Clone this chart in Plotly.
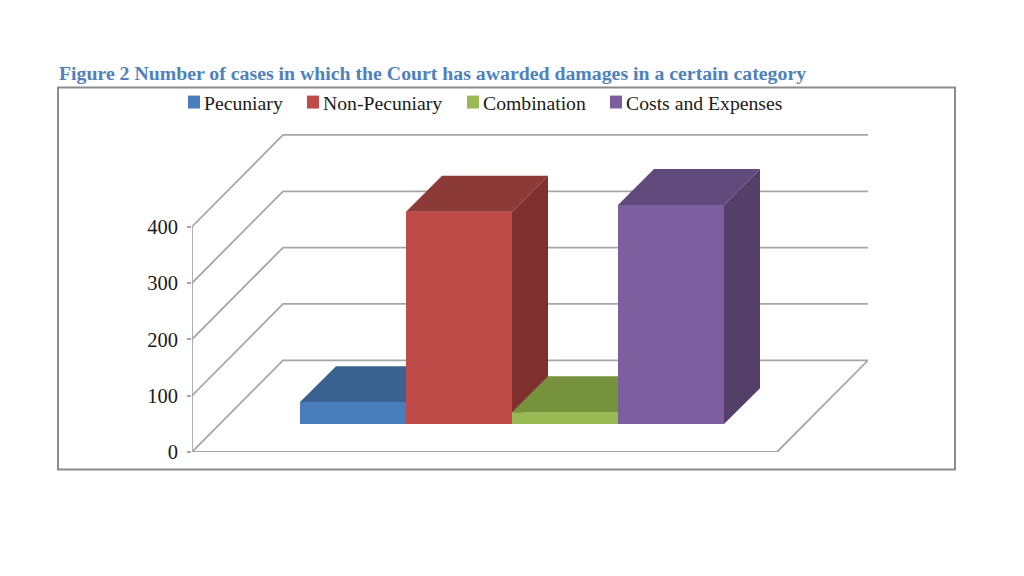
import plotly.graph_objects as go

# data
series_names = ['Pecuniary', 'Non-Pecuniary', 'Combination', 'Costs and Expenses']
series_values = [39, 377, 21, 389]
tick_values = [0, 100, 200, 300, 400]

front_colors = ['#4A7EBB', '#BE4B48', '#98B954', '#7D5FA0']
top_colors = ['#3A618F', '#8C3A38', '#76923C', '#604A7B']
side_colors = ['#2F5079', '#7F2F2D', '#66803A', '#533F68']

GRID_COLOR = '#A6A6A6'
TEXT_COLOR = '#1a1a1a'
FONT = 'Liberation Serif'

# the page body has an 8px margin, all pixel positions below are page positions
PAGE = 8
LEFT, RIGHT, TOP, BOTTOM = 192, 868, 120.5, 452.5
PX_PER_BAR = 106
PX_PER_VALUE = 0.565

x_min = -(353 - LEFT) / PX_PER_BAR
x_max = (RIGHT - 353) / PX_PER_BAR
y_max = (BOTTOM - TOP) / PX_PER_VALUE

# oblique offsets of the fake 3D box, in axis units
wall_dx = 91 / PX_PER_BAR
wall_dy = 92 / PX_PER_VALUE
bar_dx = 36 / PX_PER_BAR
bar_dy = 36 / PX_PER_VALUE
bar_base = 28 / PX_PER_VALUE
floor_right = x_max - wall_dx

# hand placed legend, its entries sit closer together than a plotly legend allows
legend_left = [188, 307, 467, 610]


def paper_x(px):
    return (px - LEFT) / (RIGHT - LEFT)


def paper_y(py):
    return (BOTTOM - py) / (BOTTOM - TOP)


def face(xs, ys, color):
    return go.Scatter(
        x=xs, y=ys, mode='lines', fill='toself', fillcolor=color,
        line=dict(width=0), hoverinfo='skip', showlegend=False, cliponaxis=False
    )


def wire(xs, ys):
    return go.Scatter(
        x=xs, y=ys, mode='lines', line=dict(color=GRID_COLOR, width=1.8),
        hoverinfo='skip', showlegend=False, cliponaxis=False
    )


fig = go.Figure()

# real bars for hover, the faces are painted over them back to front
for i, name in enumerate(series_names):
    fig.add_trace(go.Bar(
        x=[i], y=[series_values[i]], base=bar_base, width=1, name=name,
        marker=dict(color=front_colors[i], line=dict(width=0)), showlegend=False
    ))

# walls and floor
for v in tick_values[1:]:
    fig.add_trace(wire([x_min, x_min + wall_dx, x_max],
                       [v, v + wall_dy, v + wall_dy]))
fig.add_trace(wire([x_min, x_min], [0, tick_values[-1]]))
fig.add_trace(wire([x_min, x_min + wall_dx, x_max, floor_right, x_min],
                   [0, wall_dy, wall_dy, 0, 0]))

for i, v in enumerate(series_values):
    x0, x1 = i - 0.5, i + 0.5
    y0, y1 = bar_base, bar_base + v
    fig.add_trace(face([x0, x0 + bar_dx, x1 + bar_dx, x1, x0],
                       [y1, y1 + bar_dy, y1 + bar_dy, y1, y1], top_colors[i]))
    fig.add_trace(face([x1, x1 + bar_dx, x1 + bar_dx, x1, x1],
                       [y0, y0 + bar_dy, y1 + bar_dy, y1, y0], side_colors[i]))
    fig.add_trace(face([x0, x1, x1, x0, x0],
                       [y0, y0, y1, y1, y0], front_colors[i]))

shapes = [dict(
    type='rect', xref='paper', yref='paper', layer='below',
    x0=paper_x(58), x1=paper_x(955), y0=paper_y(470), y1=paper_y(87),
    line=dict(color='#8C8C8C', width=2)
)]
annotations = []
for name, color, px in zip(series_names, front_colors, legend_left):
    shapes.append(dict(
        type='rect', xref='paper', yref='paper',
        x0=paper_x(px), x1=paper_x(px + 12), y0=paper_y(108), y1=paper_y(95),
        fillcolor=color, line=dict(width=0)
    ))
    annotations.append(dict(
        text=name, xref='paper', yref='paper', x=paper_x(px + 14), y=paper_y(102),
        xanchor='left', yanchor='middle', showarrow=False,
        font=dict(family=FONT, size=19.7, color=TEXT_COLOR)
    ))

fig.update_layout(
    width=1024 - PAGE,
    height=576 - PAGE,
    margin=dict(l=LEFT - PAGE, r=1024 - RIGHT, t=TOP - PAGE, b=576 - BOTTOM),
    paper_bgcolor='white',
    plot_bgcolor='white',
    barmode='overlay',
    showlegend=False,
    font=dict(family=FONT, size=20, color=TEXT_COLOR),
    title=dict(
        text='<b>Figure 2 Number of cases in which the Court has awarded damages in a certain category</b>',
        x=(59 - PAGE) / (1024 - PAGE), y=1 - (73 - PAGE) / (576 - PAGE),
        xanchor='left', yanchor='middle',
        font=dict(family=FONT, size=19.8, color='#4F81BD')
    ),
    xaxis=dict(range=[x_min, x_max], visible=False, fixedrange=True),
    yaxis=dict(
        range=[0, y_max], tickvals=tick_values, showgrid=False, zeroline=False,
        showline=False, ticks='outside', ticklen=4, tickcolor=GRID_COLOR,
        tickwidth=2, ticklabelstandoff=5,
        tickfont=dict(family=FONT, size=20.5, color=TEXT_COLOR),
        fixedrange=True
    ),
    shapes=shapes,
    annotations=annotations
)

fig.write_html("out.html")
